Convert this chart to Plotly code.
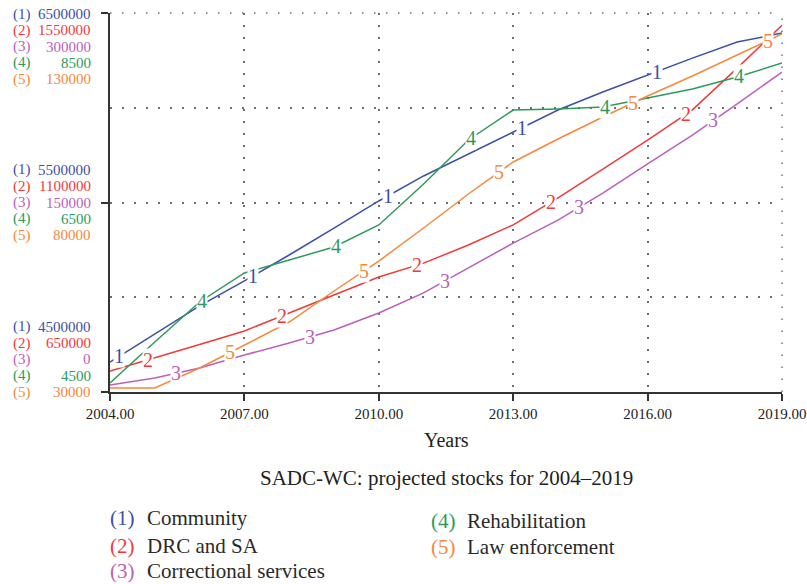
import numpy as np
import plotly.graph_objects as go

# ---------------- data ----------------
years = list(range(2004, 2020))
community = [4658000, 4806000, 4954000, 5086000, 5223000, 5365000, 5508000, 5640000,
             5756000, 5872000, 5988000, 6083000, 6173000, 6262000, 6347000, 6394000]
drc_sa = [700000, 731000, 763000, 795000, 838000, 880000, 923000, 956000,
          999000, 1047000, 1111000, 1179000, 1248000, 1320000, 1419000, 1521000]
correctional = [5500, 11100, 19000, 29300, 38800, 49100, 62500, 78400,
                98200, 117900, 136100, 157500, 180500, 203400, 228000, 253300]
rehabilitation = [4595, 5028, 5450, 5756, 5893, 6030, 6263, 6695,
                  7160, 7476, 7487, 7508, 7603, 7698, 7824, 7972]
law_enforcement = [31060, 31060, 36330, 42400, 48470, 56650, 64560, 73270,
                   82240, 90690, 96750, 102560, 108100, 113380, 118920, 124460]

series_names = ["Community", "DRC and SA", "Correctional services", "Rehabilitation", "Law enforcement"]
series_values = [community, drc_sa, correctional, rehabilitation, law_enforcement]
axis_min = [4500000, 650000, 0, 4500, 30000]
axis_mid = [5500000, 1100000, 150000, 6500, 80000]
axis_max = [6500000, 1550000, 300000, 8500, 130000]
label_start = [2004.2, 2004.85, 2005.47, 2006.05, 2006.68]

x_tickvals = [2004, 2007, 2010, 2013, 2016, 2019]
x_ticktext = ["2004.00", "2007.00", "2010.00", "2013.00", "2016.00", "2019.00"]

colors = ["#3c50a6", "#f03a3a", "#bb5fbb", "#2e9a5a", "#f5883a"]

# ---------------- figure ----------------
W, H = 807, 584
L, R, T, B = 110, 25, 13, 192
PW, PH = W - L - R, H - T - B
SERIF = "Liberation Serif"
GRID = "#6f6f6f"
AX = "#333333"
dotdash = "1.5px,10.5px"

fig = go.Figure()
yrefs = ["y", "y2", "y3", "y4", "y5"]
for i, (name, vals) in enumerate(zip(series_names, series_values)):
    fig.add_trace(go.Scatter(x=years, y=vals, mode="lines", name=name,
                             line=dict(color=colors[i], width=1.5),
                             yaxis=yrefs[i], showlegend=False, hoverinfo="skip"))

annotations = []
# number labels on the lines
for i, vals in enumerate(series_values):
    xs = np.arange(label_start[i], 2019.0, 3.0)
    for xv in xs:
        yv = float(np.interp(xv, years, vals))
        annotations.append(dict(x=float(xv), y=yv, xref="x", yref=yrefs[i],
                                text=str(i + 1), showarrow=False,
                                font=dict(family=SERIF, size=20, color=colors[i]),
                                bgcolor="white", borderpad=0,
                                xanchor="center", yanchor="middle"))

# stacked scale labels on the left
ROW = 16.3
blocks = [(1.0, axis_max, [0, 1, 2, 3, 4]), (0.5, axis_mid, [-2, -1, 0, 1, 2]),
          (0.0, axis_min, [-4, -3, -2, -1, 0])]
for yp, vals, offs in blocks:
    for i in range(5):
        ysh = -offs[i] * ROW
        if yp == 1.0:
            ysh -= 1
        annotations.append(dict(x=(11 - L) / PW, y=yp, xref="paper", yref="paper",
                                text=f"({i + 1})", showarrow=False, yshift=ysh,
                                font=dict(family=SERIF, size=15, color=colors[i]),
                                xanchor="left", yanchor="middle"))
        annotations.append(dict(x=(93 - L) / PW, y=yp, xref="paper", yref="paper",
                                text=str(vals[i]), showarrow=False, yshift=ysh,
                                font=dict(family=SERIF, size=15, color=colors[i]),
                                xanchor="right", yanchor="middle"))

def py(pix):
    return (T + PH - pix) / PH

annotations.append(dict(x=0.5, y=py(440), xref="paper", yref="paper", text="Years",
                        showarrow=False, font=dict(family=SERIF, size=20, color="#222"),
                        xanchor="center", yanchor="middle"))
annotations.append(dict(x=0.5, y=py(478), xref="paper", yref="paper",
                        text="SADC-WC: projected stocks for 2004\u20132019",
                        showarrow=False, font=dict(family=SERIF, size=21, color="#222"),
                        xanchor="center", yanchor="middle"))

# legend
leg_pos = [(108, 145, 518), (108, 145, 546), (108, 145, 571), (429, 465, 521), (429, 465, 547)]
for i, (xn, xt, yy) in enumerate(leg_pos):
    annotations.append(dict(x=(xn - L) / PW, y=py(yy), xref="paper", yref="paper",
                            text=f"({i + 1})", showarrow=False,
                            font=dict(family=SERIF, size=21, color=colors[i]),
                            xanchor="left", yanchor="middle"))
    annotations.append(dict(x=(xt - L) / PW, y=py(yy), xref="paper", yref="paper",
                            text=series_names[i], showarrow=False,
                            font=dict(family=SERIF, size=21, color="#2a2a2a"),
                            xanchor="left", yanchor="middle"))

# dotted grid lines on the plot edges (top and right)
shapes = [
    dict(type="line", xref="paper", yref="paper", x0=0, x1=1, y0=1, y1=1,
         line=dict(color=GRID, width=1.5, dash=dotdash), layer="below"),
    dict(type="line", xref="paper", yref="paper", x0=1, x1=1, y0=0, y1=1,
         line=dict(color=GRID, width=1.5, dash=dotdash), layer="below"),
]

layout = dict(
    width=W, height=H, margin=dict(l=L, r=R, t=T, b=B, pad=0, autoexpand=False),
    paper_bgcolor="white", plot_bgcolor="white",
    xaxis=dict(range=[2004, 2019], tickvals=x_tickvals, ticktext=x_ticktext,
               ticks="outside", ticklen=7, tickwidth=1.5, tickcolor=AX,
               showline=True, linecolor=AX, linewidth=1.8, automargin=False,
               showgrid=True, gridcolor=GRID, gridwidth=1.5, griddash=dotdash,
               zeroline=False, tickfont=dict(family=SERIF, size=15, color="#222")),
    yaxis=dict(range=[axis_min[0], axis_max[0]], tickvals=[axis_min[0], axis_mid[0], axis_max[0]],
               ticks="outside", ticklen=7, tickwidth=1.5, tickcolor=AX,
               showticklabels=False, showline=True, linecolor=AX, linewidth=1.8,
               automargin=False,
               showgrid=True, gridcolor=GRID, gridwidth=1.5, griddash=dotdash,
               zeroline=False,
               minor=dict(tickvals=[(axis_min[0] + axis_mid[0]) / 2, (axis_mid[0] + axis_max[0]) / 2],
                          ticks="", showgrid=True, gridcolor=GRID, gridwidth=1.5, griddash=dotdash)),
    annotations=annotations,
    shapes=shapes,
)
for k in range(1, 5):
    layout[f"yaxis{k + 1}"] = dict(range=[axis_min[k], axis_max[k]], overlaying="y",
                                   visible=False, showgrid=False, zeroline=False)
fig.update_layout(**layout)
fig.write_html("out.html", config={"displayModeBar": False},
               post_script="document.body.style.margin='0px';document.body.style.overflow='hidden';")
